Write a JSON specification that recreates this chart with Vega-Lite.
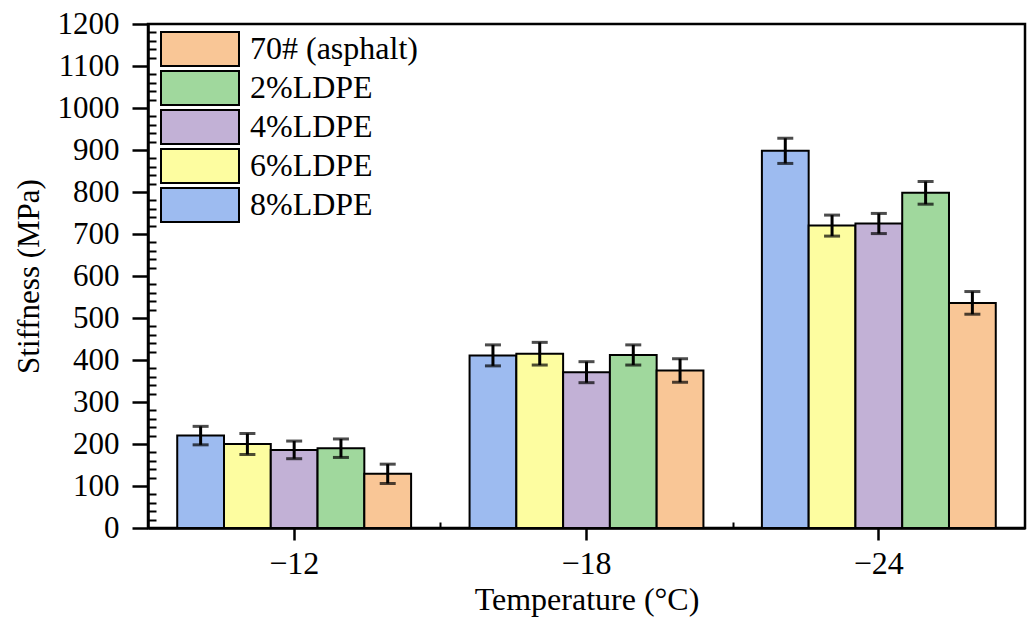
{
  "$schema": "https://vega.github.io/schema/vega-lite/v6.json",
  "autosize": {"type": "none"},
  "padding": {"left": 148, "top": 24, "right": 9, "bottom": 91},
  "width": 877,
  "height": 504,
  "config": {
    "font": "Liberation Serif",
    "view": {"stroke": "black", "strokeWidth": 2.5},
    "axis": {
      "labelFont": "Liberation Serif",
      "titleFont": "Liberation Serif",
      "labelColor": "black",
      "titleColor": "black",
      "domainColor": "black",
      "tickColor": "black",
      "titleFontWeight": "normal",
      "grid": false
    },
    "legend": {"labelFont": "Liberation Serif"}
  },
  "layer": [
    {
      "data": {
        "values": [
          {"temp": "−12", "series": "8%LDPE", "stiffness": 220, "err": 22},
          {"temp": "−12", "series": "6%LDPE", "stiffness": 200, "err": 25},
          {"temp": "−12", "series": "4%LDPE", "stiffness": 186, "err": 21},
          {"temp": "−12", "series": "2%LDPE", "stiffness": 190, "err": 22},
          {"temp": "−12", "series": "70# (asphalt)", "stiffness": 129, "err": 23},
          {"temp": "−18", "series": "8%LDPE", "stiffness": 411, "err": 25},
          {"temp": "−18", "series": "6%LDPE", "stiffness": 415, "err": 27},
          {"temp": "−18", "series": "4%LDPE", "stiffness": 371, "err": 25},
          {"temp": "−18", "series": "2%LDPE", "stiffness": 412, "err": 24},
          {"temp": "−18", "series": "70# (asphalt)", "stiffness": 375, "err": 28},
          {"temp": "−24", "series": "8%LDPE", "stiffness": 898, "err": 30},
          {"temp": "−24", "series": "6%LDPE", "stiffness": 720, "err": 25},
          {"temp": "−24", "series": "4%LDPE", "stiffness": 725, "err": 24},
          {"temp": "−24", "series": "2%LDPE", "stiffness": 798, "err": 27},
          {"temp": "−24", "series": "70# (asphalt)", "stiffness": 536, "err": 27}
        ]
      },
      "encoding": {
        "x": {
          "field": "temp",
          "type": "nominal",
          "sort": ["−12", "−18", "−24"],
          "scale": {"paddingInner": 0.2, "paddingOuter": 0.1},
          "axis": {
            "orient": "bottom",
            "title": "Temperature (°C)",
            "labelAngle": 0,
            "labelFont": "Liberation Serif",
            "titleFont": "Liberation Serif",
            "labelFontSize": 32,
            "titleFontSize": 32,
            "tickSize": 12,
            "tickWidth": 2.5,
            "domainWidth": 2.5,
            "labelPadding": 8,
            "titlePadding": 5
          }
        },
        "xOffset": {
          "field": "series",
          "type": "nominal",
          "sort": ["8%LDPE", "6%LDPE", "4%LDPE", "2%LDPE", "70# (asphalt)"],
          "scale": {"paddingInner": 0, "paddingOuter": 0}
        },
        "y": {
          "field": "stiffness",
          "type": "quantitative",
          "scale": {"domain": [0, 1200], "nice": false},
          "axis": {
            "title": "Stiffness (MPa)",
            "values": [0, 20, 40, 60, 80, 100, 120, 140, 160, 180, 200, 220, 240, 260, 280, 300, 320, 340, 360, 380, 400, 420, 440, 460, 480, 500, 520, 540, 560, 580, 600, 620, 640, 660, 680, 700, 720, 740, 760, 780, 800, 820, 840, 860, 880, 900, 920, 940, 960, 980, 1000, 1020, 1040, 1060, 1080, 1100, 1120, 1140, 1160, 1180, 1200],
            "format": "d",
            "tickSize": {"condition": {"test": "datum.value % 100 === 0", "value": 16}, "value": -8},
            "tickWidth": {"condition": {"test": "datum.value % 100 === 0", "value": 2.5}, "value": 2},
            "labelExpr": "datum.value % 100 === 0 ? datum.label : ''",
            "labelOverlap": false,
            "labelFont": "Liberation Serif",
            "titleFont": "Liberation Serif",
            "labelFontSize": 31,
            "titleFontSize": 31,
            "labelPadding": 13,
            "titlePadding": 12,
            "domainWidth": 2.5
          }
        }
      },
      "layer": [
        {
          "mark": {"type": "bar", "stroke": "black", "strokeWidth": 2},
          "encoding": {
            "color": {
              "field": "series",
              "type": "nominal",
              "scale": {
                "domain": ["70# (asphalt)", "2%LDPE", "4%LDPE", "6%LDPE", "8%LDPE"],
                "range": ["#f9c696", "#a0d89d", "#c2b1d6", "#fdfda0", "#9dbbf0"]
              },
              "legend": {
                "title": null,
                "orient": "none",
                "legendX": 34,
                "legendY": 7,
                "padding": 0,
                "symbolType": "M-2.294,-1H2.294V1H-2.294Z",
                "symbolSize": 1156,
                "symbolStrokeColor": "black",
                "symbolStrokeWidth": 2,
                "symbolOpacity": 1,
                "labelFont": "Liberation Serif",
                "labelFontSize": 32,
                "labelColor": "black",
                "labelLimit": 0,
                "labelOffset": 32,
                "rowPadding": -7.3
              }
            }
          }
        },
        {
          "mark": {
            "type": "errorbar",
            "color": "black",
            "ticks": {"size": 16, "thickness": 3, "color": "black"},
            "rule": {"strokeWidth": 3}
          },
          "encoding": {
            "yError": {"field": "err"}
          }
        }
      ]
    },
    {
      "data": {"values": [{"slot": 0}, {"slot": 18}]},
      "mark": {"type": "point", "opacity": 0},
      "encoding": {
        "x": {
          "field": "slot",
          "type": "quantitative",
          "scale": {"domain": [0, 18], "nice": false, "zero": false},
          "axis": {
            "orient": "bottom",
            "values": [1, 2, 4, 5, 6, 7, 8, 10, 11, 12, 13, 14, 16, 17],
            "tickSize": -6,
            "tickWidth": 2,
            "labels": false,
            "domain": false,
            "title": null,
            "grid": false
          }
        }
      }
    }
  ],
  "resolve": {"scale": {"x": "independent"}, "axis": {"x": "independent"}}
}
